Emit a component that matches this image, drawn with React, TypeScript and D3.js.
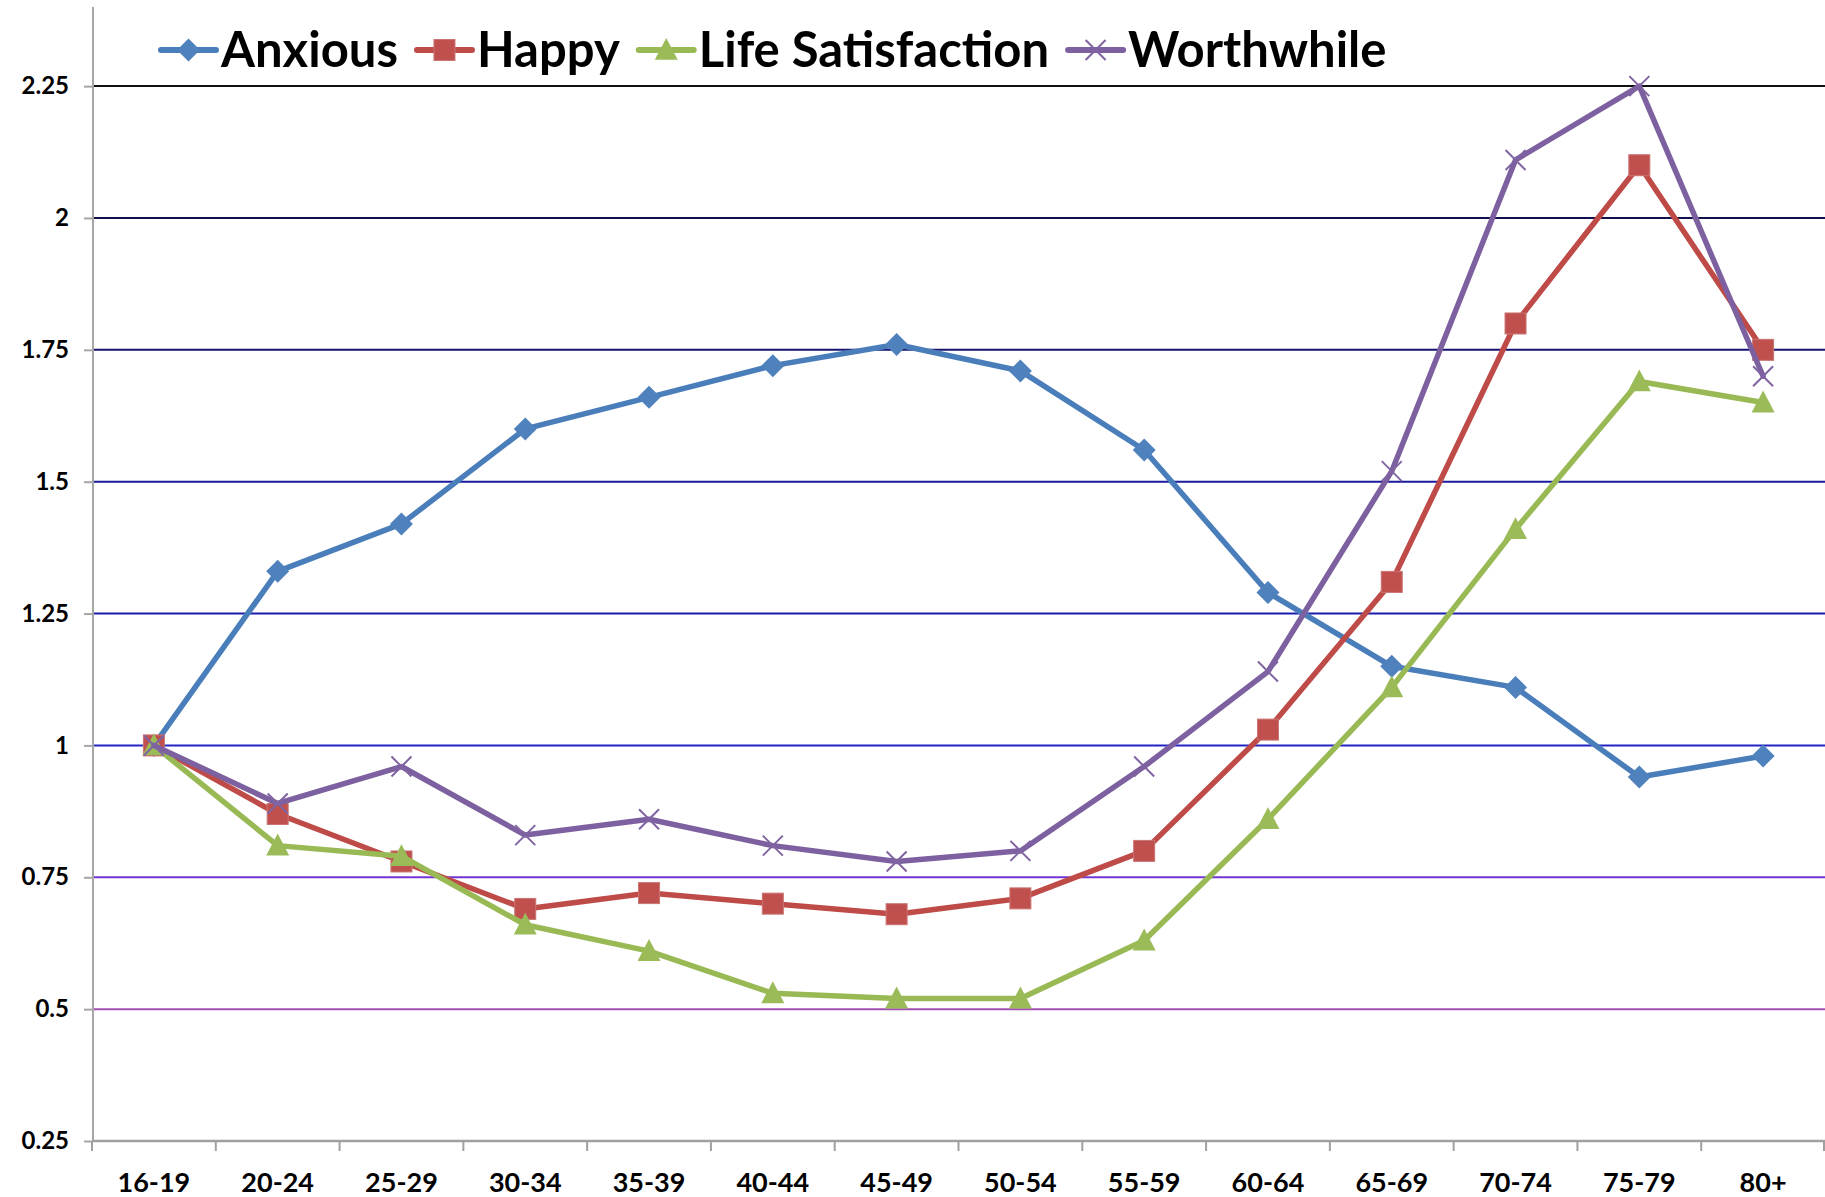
import { useEffect, useRef } from "react";
import * as d3 from "d3";

// Age bands along the x axis
const ageGroups = ["16-19", "20-24", "25-29", "30-34", "35-39", "40-44", "45-49", "50-54", "55-59", "60-64", "65-69", "70-74", "75-79", "80+"];

// Values (relative to the 16-19 group)
const anxious = [1.0, 1.33, 1.42, 1.6, 1.66, 1.72, 1.76, 1.71, 1.56, 1.29, 1.15, 1.11, 0.94, 0.98];
const happy = [1.0, 0.87, 0.78, 0.69, 0.72, 0.7, 0.68, 0.71, 0.8, 1.03, 1.31, 1.8, 2.1, 1.75];
const lifeSatisfaction = [1.0, 0.81, 0.79, 0.66, 0.61, 0.53, 0.52, 0.52, 0.63, 0.86, 1.11, 1.41, 1.69, 1.65];
const worthwhile = [1.0, 0.89, 0.96, 0.83, 0.86, 0.81, 0.78, 0.8, 0.96, 1.14, 1.52, 2.11, 2.25, 1.7];

const seriesNames = ["Anxious", "Happy", "Life Satisfaction", "Worthwhile"];
const yTicks = [0.25, 0.5, 0.75, 1, 1.25, 1.5, 1.75, 2, 2.25];

type Marker = "diamond" | "square" | "triangle" | "cross";

const seriesStyle: { line: string; fill: string; marker: Marker }[] = [
    { line: "#4a7ebb", fill: "#4f81bd", marker: "diamond" },
    { line: "#be4b48", fill: "#c0504d", marker: "square" },
    { line: "#98b954", fill: "#9bbb59", marker: "triangle" },
    { line: "#7d60a0", fill: "#8064a2", marker: "cross" },
];

// gridline colour per tick value (Excel gradient-ish lines)
const gridColor: Record<string, string> = {
    "0.5": "#a24fb4",
    "0.75": "#7434d4",
    "1": "#2424c4",
    "1.25": "#1c1cac",
    "1.5": "#1a1a9c",
    "1.75": "#141470",
    "2": "#10104c",
    "2.25": "#111111",
};

const W = 1825;
const H = 1197;
const FONT = "Lato, 'Open Sans', sans-serif";

function drawMarker(g: d3.Selection<SVGGElement, unknown, null, undefined>, type: Marker, cx: number, cy: number, color: string, scale = 1) {
    if (type === "diamond") {
        const r = 11.5 * scale;
        g.append("path")
            .attr("d", `M${cx},${cy - r}L${cx + r},${cy}L${cx},${cy + r}L${cx - r},${cy}Z`)
            .attr("fill", color);
    } else if (type === "square") {
        const s = 21 * scale;
        g.append("rect")
            .attr("x", cx - s / 2)
            .attr("y", cy - s / 2)
            .attr("width", s)
            .attr("height", s)
            .attr("fill", color)
            .attr("stroke", "#c97573")
            .attr("stroke-width", 1);
    } else if (type === "triangle") {
        const s = 23 * scale;
        const h = s * 0.95;
        g.append("path")
            .attr("d", `M${cx},${cy - h * 0.55}L${cx + s / 2},${cy + h * 0.45}L${cx - s / 2},${cy + h * 0.45}Z`)
            .attr("fill", color);
    } else {
        const r = 10 * scale;
        g.append("path")
            .attr("d", `M${cx - r},${cy - r}L${cx + r},${cy + r}M${cx - r},${cy + r}L${cx + r},${cy - r}`)
            .attr("stroke", color)
            .attr("stroke-width", 2)
            .attr("fill", "none");
    }
}

function App() {
    const svgRef = useRef<SVGSVGElement>(null);

    useEffect(() => {
        document.body.style.margin = "0";
        const svgEl = svgRef.current;
        if (!svgEl) return;

        const axisBottom = 1141;
        const xScale = d3.scaleBand<string>().domain(ageGroups).range([92, W]);
        const yScale = d3.scaleLinear().domain([0.25, 2.4]).range([axisBottom, 7]);
        const allSeries = [anxious, happy, lifeSatisfaction, worthwhile];

        const svg = d3.select(svgEl);
        svg.selectAll("*").remove();

        svg.append("rect").attr("width", W).attr("height", H).attr("fill", "#ffffff");

        // horizontal gridlines
        svg.append("g")
            .selectAll("line")
            .data(yTicks.filter(t => t > 0.25))
            .join("line")
            .attr("x1", 93)
            .attr("x2", W)
            .attr("y1", d => yScale(d))
            .attr("y2", d => yScale(d))
            .attr("stroke", d => gridColor[String(d)])
            .attr("stroke-width", 2);

        // y axis
        const yAxis = svg.append("g")
            .attr("transform", "translate(93,0)")
            .call(d3.axisLeft(yScale).tickValues(yTicks).tickSize(9).tickPadding(15).tickFormat(d => String(d)));
        yAxis.select(".domain").remove();
        yAxis.selectAll(".tick line").attr("stroke", "#a6a6a6").attr("stroke-width", 2);
        yAxis.selectAll(".tick text")
            .attr("font-family", FONT)
            .attr("font-weight", 700)
            .attr("font-size", "24px")
            .attr("fill", "#000");
        svg.append("line")
            .attr("x1", 93).attr("x2", 93)
            .attr("y1", yScale(2.4)).attr("y2", axisBottom)
            .attr("stroke", "#a6a6a6").attr("stroke-width", 2);

        // x axis: ticks between categories, labels centred in each band
        const bw = xScale.bandwidth();
        const boundaries = ageGroups.map(c => xScale(c) as number).concat([(xScale(ageGroups[ageGroups.length - 1]) as number) + bw - 1]);
        svg.append("g")
            .selectAll("line")
            .data(boundaries)
            .join("line")
            .attr("x1", d => d)
            .attr("x2", d => d)
            .attr("y1", axisBottom)
            .attr("y2", axisBottom + 10)
            .attr("stroke", "#a0a0a0")
            .attr("stroke-width", 2);
        svg.append("line")
            .attr("x1", 92).attr("x2", W)
            .attr("y1", axisBottom).attr("y2", axisBottom)
            .attr("stroke", "#a0a0a0").attr("stroke-width", 2.5);
        svg.append("g")
            .selectAll("text")
            .data(ageGroups)
            .join("text")
            .attr("x", d => (xScale(d) as number) + bw / 2)
            .attr("y", 1192)
            .attr("text-anchor", "middle")
            .attr("font-family", FONT)
            .attr("font-weight", 700)
            .attr("font-size", "27px")
            .attr("fill", "#000")
            .text(d => d);

        // series lines and markers
        const line = d3.line<number>()
            .x((_, i) => (xScale(ageGroups[i]) as number) + bw / 2)
            .y(d => yScale(d));

        allSeries.forEach((values, si) => {
            const st = seriesStyle[si];
            const g = svg.append("g");
            g.append("path")
                .datum(values)
                .attr("d", line)
                .attr("fill", "none")
                .attr("stroke", st.line)
                .attr("stroke-width", 5.5)
                .attr("stroke-linejoin", "round")
                .attr("stroke-linecap", "round");
            values.forEach((v, i) => {
                drawMarker(g, st.marker, (xScale(ageGroups[i]) as number) + bw / 2, yScale(v), st.fill);
            });
        });

        // legend, laid out left to right from measured text widths
        const legend = svg.append("g");
        let x0 = 161;
        const ly = 50;
        seriesNames.forEach((name, si) => {
            const st = seriesStyle[si];
            const g = legend.append("g");
            g.append("line")
                .attr("x1", x0).attr("x2", x0 + 55)
                .attr("y1", ly).attr("y2", ly)
                .attr("stroke", st.line)
                .attr("stroke-width", 6)
                .attr("stroke-linecap", "round");
            drawMarker(g, st.marker, x0 + 27.5, ly, st.fill, 1.0);
            const txt = g.append("text")
                .attr("x", x0 + 60)
                .attr("y", ly + 17)
                .attr("font-family", FONT)
                .attr("font-weight", 700)
                .attr("font-size", "49px")
                .attr("fill", "#000")
                .text(name);
            const tw = (txt.node() as SVGTextElement).getComputedTextLength();
            x0 = x0 + 60 + tw + 19;
        });
    }, []);

    return (
        <svg ref={svgRef} width={W} height={H} style={{ display: "block" }} />
    );
}

export default App;
